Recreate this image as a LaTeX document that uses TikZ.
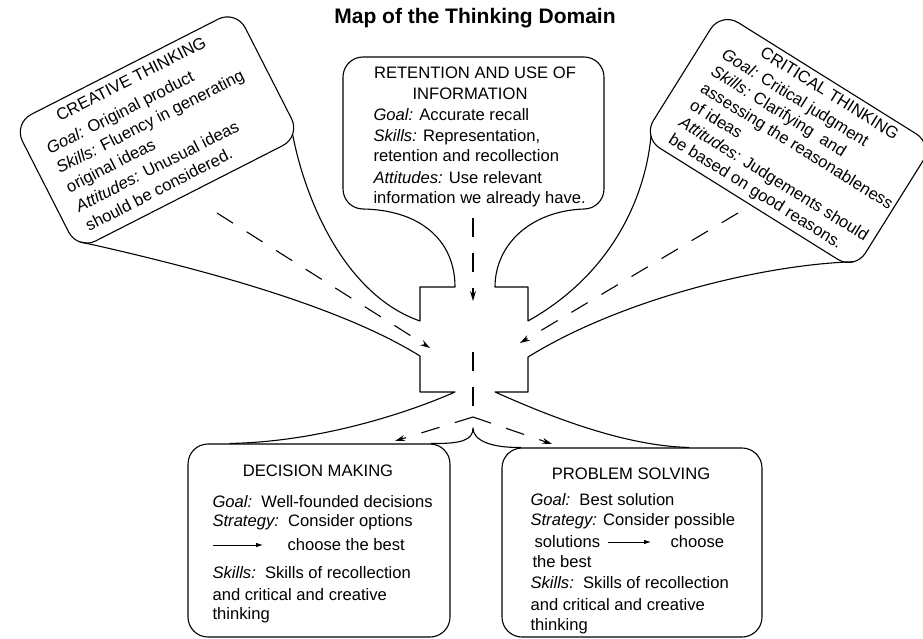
\documentclass[tikz,border=0pt]{standalone}
\usepackage{fontspec}
\setmainfont{Liberation Sans}
\usetikzlibrary{arrows.meta,calc}
\begin{document}
\begin{tikzpicture}[x=1pt,y=-1pt,line width=1.1pt,line join=round,
  txt/.style={font=\fontsize{16.6}{20}\selectfont,inner sep=0pt,anchor=base west},
  hd/.style={font=\fontsize{16.6}{20}\selectfont,inner sep=0pt,anchor=base},
  box/.style={draw,rounded corners=20pt,inner sep=0pt},
  dashline/.style={dash pattern=on 19pt off 16pt},
  dasharrow/.style={dashline,-{Stealth[length=10pt,width=6pt]}},
  inarrow/.style={line width=0.8pt,-{Latex[length=7pt,width=4.5pt]}}]
\useasboundingbox (0,0) rectangle (923,639);

% title
\node[font=\bfseries\fontsize{21}{24}\selectfont,inner sep=0pt,anchor=base] (title) at (475,24) {Map of the Thinking Domain};

% creative thinking box
\begin{scope}[shift={(157,130)},rotate=27,transform shape]
  \node[box,minimum width=250pt,minimum height=142pt] (ct) at (0,0) {};
  \coordinate (ctR) at (119,65);
  \coordinate (ctL) at (-119,65);
  \node[hd] (ctH) at (0,-51.5) {CREATIVE THINKING};
  \node[txt] (ct1) at (-107,-26.5) {\textit{Goal:} Original product};
  \node[txt] (ct2) at (-107,-5) {\textit{Skills:} Fluency in generating};
  \node[txt] (ct3) at (-107,16.5) {original ideas};
  \node[txt] (ct4) at (-107,38) {\textit{Attitudes:} Unusual ideas};
  \node[txt] (ct5) at (-107,59.5) {should be considered.};
\end{scope}

% critical thinking box
\begin{scope}[shift={(788,141)},rotate=-32,transform shape]
  \node[box,minimum width=250pt,minimum height=148pt] (cr) at (0,0) {};
  \coordinate (crL) at (-119,68);
  \coordinate (crR) at (119,68);
  \node[hd] (crH) at (10,-57) {CRITICAL THINKING};
  \node[txt] (cr1) at (-102,-35) {\textit{Goal:} Critical judgment};
  \node[txt] (cr2) at (-102,-15) {\textit{Skills:} Clarifying\ \ and};
  \node[txt] (cr3) at (-102,5) {assessing the reasonableness};
  \node[txt] (cr4) at (-102,25) {of ideas};
  \node[txt] (cr5) at (-102,45) {\textit{Attitudes:} Judgements should};
  \node[txt] (cr6) at (-102,65) {be based on good reasons.};
\end{scope}

% decision and problem boxes
\node[box,minimum width=262pt,minimum height=193pt] (dm) at (319,540.5) {};
\node[box,minimum width=260pt,minimum height=189pt] (ps) at (632,542.5) {};

% upper outline: creative tail, retention box, critical tail
\draw (ctR) .. controls (305,200) and (345,295) .. (420,321)
  -- (420,287) -- (455,287)
  .. controls (455,240) and (420,210) .. (363,209)
  arc[start angle=90,end angle=180,radius=20] -- (343,77)
  arc[start angle=180,end angle=270,radius=20] -- (584,57)
  arc[start angle=270,end angle=360,radius=20] -- (604,189)
  arc[start angle=0,end angle=90,radius=20]
  .. controls (530,211) and (495,245) .. (495,287)
  -- (528,287) -- (528,321)
  .. controls (610,275) and (645,200) .. (crL);

% lower left outline
\draw (ctL) .. controls (170,262) and (330,300) .. (420,356)
  -- (420,392) -- (455,392)
  .. controls (410,412) and (320,442) .. ($(dm.north west)!0.16!(dm.north east)$);
% lower right outline
\draw (crR) .. controls (760,265) and (620,300) .. (528,357)
  -- (528,392) -- (495,392)
  .. controls (540,412) and (620,446) .. ($(ps.north west)!0.72!(ps.north east)$);
% cusp between the bottom boxes
\coordinate (cusp) at (473,428);
\draw ($(dm.north east)+(-20,0)$) .. controls (462,444) and (473,440) .. (cusp)
  .. controls (473,440) and (490,448) .. ($(ps.north west)+(20,0)$);

% retention text
\node[hd] (rtH1) at (475,79) {RETENTION AND USE OF};
\node[hd] (rtH2) at (470,100) {INFORMATION};
\node[txt] (rt1) at (373,121) {\textit{Goal:} Accurate recall};
\node[txt] (rt2) at (373,142) {\textit{Skills:} Representation,};
\node[txt] (rt3) at (373,162) {retention and recollection};
\node[txt] (rt4) at (373,183) {\textit{Attitudes:} Use relevant};
\node[txt] (rt5) at (373,204) {information we already have.};

% decision making text
\node[hd] (dmH) at (318,476) {DECISION MAKING};
\node[txt] (dm1) at (212,507) {\textit{Goal:}\ \ Well-founded decisions};
\node[txt] (dm2) at (212,526) {\textit{Strategy:}\ \ Consider options};
\coordinate (dmA1) at (213,545);
\coordinate (dmA2) at (263,545);
\draw[inarrow] (dmA1) -- (dmA2);
\node[txt] (dm3) at (287,550) {choose the best};
\node[txt] (dm4) at (212,578) {\textit{Skills:}\ \ Skills of recollection};
\node[txt] (dm5) at (212,600) {and critical and creative};
\node[txt] (dm6) at (212,619) {thinking};

% problem solving text
\node[hd] (psH) at (631,479) {PROBLEM SOLVING};
\node[txt] (ps1) at (530,505) {\textit{Goal:}\ \ Best solution};
\node[txt] (ps2) at (530,525) {\textit{Strategy:} Consider possible};
\node[txt] (ps3) at (534,547) {solutions};
\coordinate (psA1) at (608,542);
\coordinate (psA2) at (651,542);
\draw[inarrow] (psA1) -- (psA2);
\node[txt] (ps3b) at (670,547) {choose};
\node[txt] (ps4) at (532,567) {the best};
\node[txt] (ps5) at (530,588) {\textit{Skills:}\ \ Skills of recollection};
\node[txt] (ps6) at (530,610) {and critical and creative};
\node[txt] (ps7) at (530,630) {thinking};

% dashed flow arrows
\coordinate (a1s) at (217,213);
\coordinate (a1e) at (430,348);
\coordinate (a2s) at (473,218);
\coordinate (a2e) at (473,301);
\coordinate (a3s) at (738,213);
\coordinate (a3e) at (520,343);
\coordinate (cS) at (473,352);
\coordinate (cM) at (473,417);
\coordinate (b1) at (395,441);
\coordinate (b2) at (552,444);
\draw[dasharrow] (a1s) -- (a1e);
\draw[dasharrow] (a2s) -- (a2e);
\draw[dasharrow] (a3s) -- (a3e);
\draw[dashline] (cS) -- (cM);
\draw[dasharrow] (cM) -- (b1);
\draw[dasharrow] (cM) -- (b2);
\end{tikzpicture}
\end{document}
